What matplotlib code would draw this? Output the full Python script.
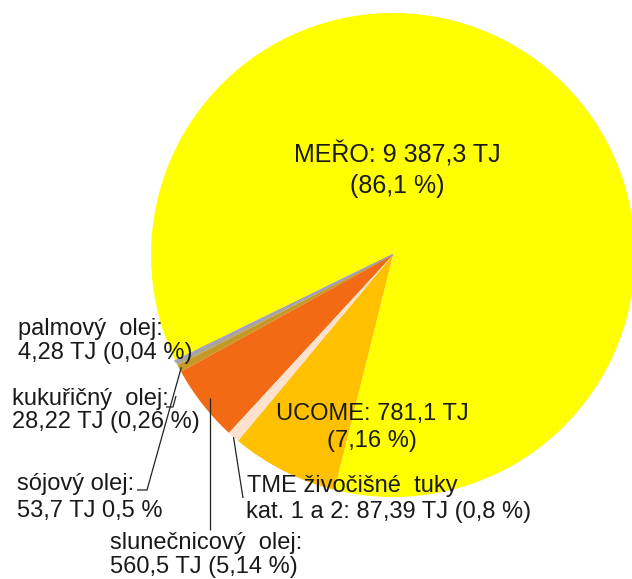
import matplotlib
matplotlib.use("Agg")
import matplotlib.pyplot as plt
import numpy as np

# Biofuel components (energy content in TJ and share in %)
categories = ["MEŘO", "palmový olej", "kukuřičný olej", "sójový olej",
              "slunečnicový olej", "TME živočišné tuky kat. 1 a 2", "UCOME"]
energy_tj = [9387.3, 4.28, 28.22, 53.7, 560.5, 87.39, 781.1]
share_pct = [86.1, 0.04, 0.26, 0.5, 5.14, 0.8, 7.16]
colors = ["#FFFF00", "#A39FDE", "#A9A496", "#C49A24", "#F26A14", "#FBE1CE", "#FFC000"]


def cz(v):
    """Czech number format: space as thousands separator, comma as decimal mark."""
    return format(v, ",").replace(",", " ").replace(".", ",")


W, H = 632, 579
fig = plt.figure(figsize=(W / 100, H / 100), dpi=100)
fig.patch.set_facecolor("white")
ax = fig.add_axes([0, 0, 1, 1])

cx, cy, r = 393, H - 255, 242
wedges, _ = ax.pie(energy_tj, colors=colors, startangle=256, counterclock=True,
                   center=(cx, cy), radius=r, frame=True,
                   wedgeprops=dict(linewidth=0))
# the tiny palm-oil sliver gets an outline in its own colour so it stays visible
wedges[1].set_edgecolor(colors[1])
wedges[1].set_linewidth(1.4)
ax.set_xlim(0, W)
ax.set_ylim(0, H)
ax.set_aspect("auto")
ax.axis("off")

FONT = "Liberation Sans"
TXT = "#1a1a1a"


def line(x, y, s, ha="left", size=17):
    ax.text(x, H - y, s, ha=ha, va="baseline", fontsize=size,
            family=FONT, color=TXT)


def anchor(i, frac=1.0):
    w = wedges[i]
    a = np.deg2rad((w.theta1 + w.theta2) / 2)
    return cx + frac * r * np.cos(a), cy + frac * r * np.sin(a)


def leader(points):
    xs = [p[0] for p in points]
    ys = [p[1] for p in points]
    ax.plot(xs, ys, color="#222222", lw=0.9, solid_capstyle="butt")


# MEŘO (inside the wedge)
line(397, 162, f"{categories[0]}: {cz(energy_tj[0])} TJ", ha="center", size=18)
line(397, 193, f"({cz(share_pct[0])} %)", ha="center", size=18)

# UCOME (inside the wedge)
line(372, 420, f"{categories[6]}: {cz(energy_tj[6])} TJ", ha="center")
line(372, 447, f"({cz(share_pct[6])} %)", ha="center")

# palmový olej
line(18, 335, "palmový  olej:")
line(18, 359, f"{cz(energy_tj[1])} TJ ({cz(share_pct[1])} %)")

# kukuřičný olej
line(12, 405, "kukuřičný  olej:")
line(12, 428, f"{cz(energy_tj[2])} TJ ({cz(share_pct[2])} %)")
leader([(166, H - 407), (173, H - 407), (176, H - 396)])

# sójový olej
line(17, 490, "sójový olej:")
line(17, 517, f"{cz(energy_tj[3])} TJ {cz(share_pct[3])} %")
leader([anchor(3, 0.99), (147, H - 490), (137, H - 490)])

# slunečnicový olej
line(110, 549, "slunečnicový  olej:")
line(110, 573, f"{cz(energy_tj[4])} TJ ({cz(share_pct[4])} %)")
ax_, ay_ = anchor(4, 0.96)
leader([(ax_, ay_), (ax_, H - 530)])

# TME živočišné tuky
line(247, 492, "TME živočišné  tuky")
line(246, 518, f"kat. 1 a 2: {cz(energy_tj[5])} TJ ({cz(share_pct[5])} %)")
leader([anchor(5, 1.0), (243, H - 498)])

fig.savefig("out.png", dpi=100, facecolor="white")
